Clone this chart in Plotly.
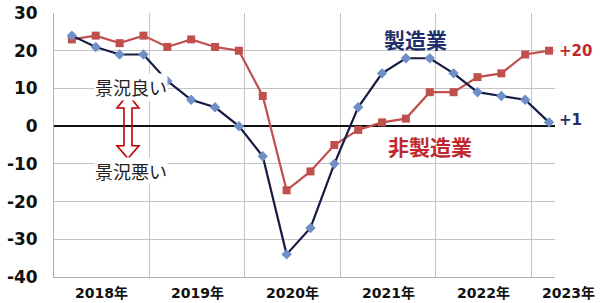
import plotly.graph_objects as go

quarters = ["2018Q1","2018Q2","2018Q3","2018Q4","2019Q1","2019Q2","2019Q3","2019Q4",
            "2020Q1","2020Q2","2020Q3","2020Q4","2021Q1","2021Q2","2021Q3","2021Q4",
            "2022Q1","2022Q2","2022Q3","2022Q4","2023Q1"]
manufacturing = [24, 21, 19, 19, 12, 7, 5, 0, -8, -34, -27, -10, 5, 14, 18, 18, 14, 9, 8, 7, 1]
non_manufacturing = [23, 24, 22, 24, 21, 23, 21, 20, 8, -17, -12, -5, -1, 1, 2, 9, 9, 13, 14, 19, 20]
year_labels = ["2018年", "2019年", "2020年", "2021年", "2022年", "2023年"]
y_ticks = [30, 20, 10, 0, -10, -20, -30, -40]

X0, X1 = 2018, 2023.25
PLOT_W = 600 - 54 - 45

def qpos(q):
    y, n = int(q[:4]), int(q[-1])
    return y + (n - 0.25) / 4.0

xs = [qpos(q) for q in quarters]

RED_LINE = "#c0504d"
RED_TXT = "#c0282d"
NAVY = "#141b45"
NAVY_TXT = "#1f2f6b"
BLUE_MK = "#6f8fc6"
CJK = "Noto Sans CJK JP"
NUMF = "DejaVu Sans, Noto Sans CJK JP"

fig = go.Figure()
fig.add_trace(go.Scatter(x=xs, y=non_manufacturing, mode="lines+markers",
                         line=dict(color=RED_LINE, width=2.2),
                         marker=dict(symbol="square", size=8, color=RED_LINE),
                         name="非製造業", hoverinfo="skip"))
fig.add_trace(go.Scatter(x=xs, y=manufacturing, mode="lines+markers",
                         line=dict(color=NAVY, width=2.2),
                         marker=dict(symbol="diamond", size=8, color=BLUE_MK),
                         name="製造業", hoverinfo="skip"))

ann = []
for i, lab in enumerate(year_labels):
    if i < len(year_labels) - 1:
        xp, xa = (2018.5 + i - X0) / (X1 - X0), "center"
    else:
        xp, xa = (597 - 54) / PLOT_W, "right"
    ann.append(dict(x=xp, y=0, xref="paper", yref="paper",
                    xanchor=xa, yanchor="top", yshift=-6, text=lab, showarrow=False,
                    font=dict(family=NUMF, size=14, color="#111111", weight="bold")))
ann += [
    dict(x=xs[14] + 0.1, y=manufacturing[14] + 5.0, xref="x", yref="y", text="製造業",
         showarrow=False, font=dict(family=CJK, size=21, color=NAVY_TXT, weight="bold")),
    dict(x=xs[15] + 0.0, y=-5.3, xref="x", yref="y", text="非製造業",
         showarrow=False, font=dict(family=CJK, size=21, color=RED_TXT, weight="bold")),
    dict(x=xs[-1], y=non_manufacturing[-1], xref="x", yref="y", xanchor="left", xshift=8,
         text="+20", showarrow=False, font=dict(family=NUMF, size=15, color=RED_TXT, weight="bold")),
    dict(x=xs[-1], y=manufacturing[-1] + 0.5, xref="x", yref="y", xanchor="left", xshift=8,
         text="+1", showarrow=False, font=dict(family=NUMF, size=15, color=NAVY_TXT, weight="bold")),
    dict(x=2018.81, y=10.4, xref="x", yref="y", text="景況良い", showarrow=False, bgcolor="white",
         borderpad=0, font=dict(family=CJK, size=18, color="#222222")),
    dict(x=2018.81, y=-11.8, xref="x", yref="y", text="景況悪い", showarrow=False, bgcolor="white",
         borderpad=0, font=dict(family=CJK, size=18, color="#222222")),
]

ax = 2018.775
hw, sw = 0.115, 0.042
yt, yhb, ylb, yb = 8.4, 4.8, -5.2, -8.6
path = (f"M {ax},{yt} L {ax+hw},{yhb} L {ax+sw},{yhb} L {ax+sw},{ylb} L {ax+hw},{ylb} "
        f"L {ax},{yb} L {ax-hw},{ylb} L {ax-sw},{ylb} L {ax-sw},{yhb} L {ax-hw},{yhb} Z")

fig.update_layout(
    width=600, height=303,
    margin=dict(l=54, r=45, t=13, b=26, autoexpand=False),
    paper_bgcolor="white", plot_bgcolor="white",
    showlegend=False,
    annotations=ann,
    shapes=[dict(type="path", path=path, xref="x", yref="y",
                 line=dict(color="#c00000", width=1.6), layer="above")],
    xaxis=dict(range=[X0, X1], tick0=2018, dtick=1, showgrid=True,
               gridcolor="#c4c4c4", gridwidth=1, showticklabels=False, ticks="",
               showline=True, linecolor="#b0b0b0", linewidth=1, zeroline=False,
               fixedrange=True, automargin=False),
    yaxis=dict(range=[-40, 30], tickvals=y_ticks, ticktext=[str(v) for v in y_ticks],
               showgrid=True, gridcolor="#c4c4c4", gridwidth=1,
               zeroline=True, zerolinecolor="#111111", zerolinewidth=2,
               showline=True, linecolor="#b0b0b0", linewidth=1, mirror=False,
               ticks="", ticklabelstandoff=12, automargin=False,
               tickfont=dict(family=NUMF, size=17, color="#111111", weight="bold"),
               fixedrange=True),
)
fig.write_html("out.html")
